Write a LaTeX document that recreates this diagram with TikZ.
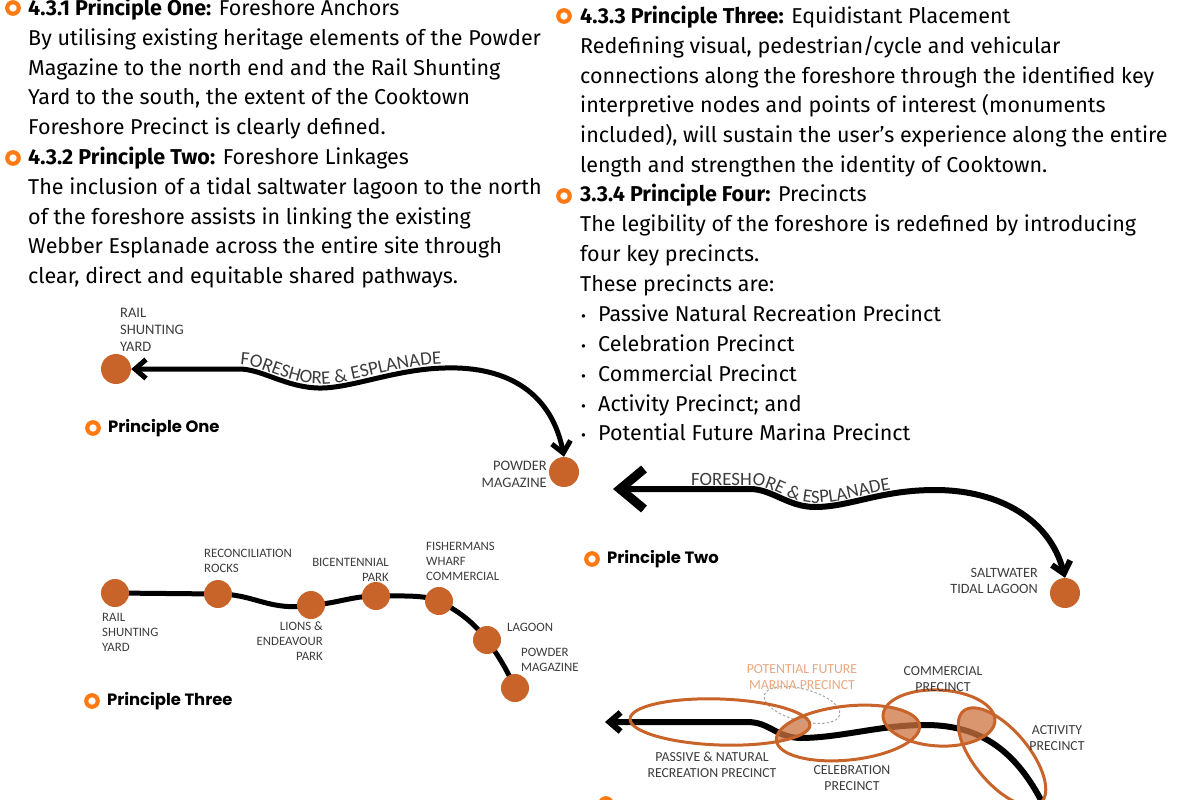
\documentclass[tikz,border=0pt]{standalone}
\usepackage{fontspec}
\setmainfont{Fira Sans}
\newfontfamily\tagfont{Poppins}
\newfontfamily\placefont{Carlito}
\usetikzlibrary{positioning, arrows.meta, decorations.text, backgrounds}

\definecolor{dotorange}{RGB}{200,100,42}
\definecolor{ringorange}{RGB}{255,122,20}
\definecolor{placegray}{RGB}{60,60,60}
\definecolor{marinaorange}{RGB}{232,168,128}

\newcommand{\bul}{\makebox[18pt][l]{\hspace{1pt}{\fontsize{15}{15}\selectfont\textbullet}}}

\begin{document}
\begin{tikzpicture}[
	x=1pt, y=-1pt,
	% Define styles
	bodytext/.style={anchor=north west, inner sep=0, align=left, font=\fontsize{21.5}{29.9}\selectfont},
	ring/.style={circle, draw=ringorange, line width=4.2pt, minimum size=11.5pt, inner sep=0},
	tag/.style={inner sep=0, font=\tagfont\bfseries\fontsize{16.4}{20}\selectfont},
	stop/.style={circle, fill=dotorange, minimum size=30pt, inner sep=0},
	smallstop/.style={stop, minimum size=28pt},
	place/.style={inner sep=0, text=placegray, font=\placefont\fontsize{14.5}{17}\selectfont},
	smallplace/.style={place, font=\placefont\fontsize{12.8}{15}\selectfont},
	zoneplace/.style={place, align=center, anchor=north, font=\placefont\fontsize{13.8}{16}\selectfont},
	esplanade/.style={line width=5pt},
	walkline/.style={line width=5pt},
	precinct/.style={draw=dotorange, line width=3pt},
	overlap/.style={fill=dotorange!90, opacity=0.75},
	barb/.tip={Straight Barb[length=11pt, width=19pt]},
	bigbarb/.tip={Straight Barb[length=24pt, width=40pt, line width=9pt]},
	% Precinct zones
	passivezone/.style={shift={(720,722)}, rotate=-2, x radius=90, y radius=23},
	marinazone/.style={shift={(802,705)}, rotate=-15, x radius=39, y radius=16},
	celebrationzone/.style={shift={(848,733)}, rotate=6, x radius=72, y radius=27},
	commercialzone/.style={shift={(939,718)}, rotate=-3, x radius=56, y radius=28},
	activityzone/.style={shift={(1002,757)}, rotate=-50, x radius=60, y radius=27}
	]
	\useasboundingbox (0,0) rectangle (1200,800);
	
	% 1. Principle texts
	\node[bodytext] (anchors) at (28,-5.9) {\strut{\bfseries 4.3.1 Principle One:} Foreshore Anchors\\
		By utilising existing heritage elements of the Powder\\
		Magazine to the north end and the Rail Shunting\\
		Yard to the south, the extent of the Cooktown\\
		Foreshore Precinct is clearly defined.};
	\node[bodytext] (linkages) at (28,143.1) {\strut{\bfseries 4.3.2 Principle Two:} Foreshore Linkages\\
		The inclusion of a tidal saltwater lagoon to the north\\
		of the foreshore assists in linking the existing\\
		Webber Esplanade across the entire site through\\
		clear, direct and equitable shared pathways.};
	\node[bodytext] (placement) at (580,2.1) {\strut{\bfseries 4.3.3 Principle Three:} Equidistant Placement\\
		Redefining visual, pedestrian/cycle and vehicular\\
		connections along the foreshore through the identified key\\
		interpretive nodes and points of interest (monuments\\
		included), will sustain the user’s experience along the entire\\
		length and strengthen the identity of Cooktown.};
	\node[bodytext] (precincts) at (580,180.6) {\strut{\bfseries 3.3.4 Principle Four:} Precincts\\
		The legibility of the foreshore is redefined by introducing\\
		four key precincts.\\
		These precincts are:\\
		\bul Passive Natural Recreation Precinct\\
		\bul Celebration Precinct\\
		\bul Commercial Precinct\\
		\bul Activity Precinct; and\\
		\bul Potential Future Marina Precinct};
	
	\node[ring] (headring1) at (13,8) {};
	\node[ring] (headring2) at (13,158) {};
	\node[ring] (headring3) at (564,16) {};
	\node[ring] (headring4) at (564,196) {};
	
	% 2. Principle One: anchors
	\node[stop] (rail1) at (116,369) {};
	\node[stop] (powder1) at (564,472) {};
	\node[place, anchor=north west, align=left] (rail1label) at (120,307.5) {RAIL\\SHUNTING\\YARD};
	\node[place, anchor=north east, align=right] (powder1label) at (547,461) {POWDER\\MAGAZINE};
	\draw[esplanade, {barb}-{barb}] (rail1.east) -- (239,369)
		.. controls (262,369) and (285,387) .. (318,388)
		.. controls (350,389) and (395,369) .. (445,368)
		.. controls (510,366) and (552,395) .. (powder1.north);
	\path[decorate, decoration={text along path, text align=left, text color=placegray,
		text={|\placefont\fontsize{19}{20}\selectfont|FORESHORE {\&} ESPLANADE}}]
		(240,365) .. controls (262,365) and (285,383) .. (318,384)
		.. controls (350,385) and (395,365) .. (445,364) -- (470,364);
	\node[ring] (ring1) at (93,428) {};
	\node[tag, right=7pt of ring1] (tag1) {Principle One};
	
	% 3. Principle Two: linkages
	\node[stop] (lagoon2) at (1065,593) {};
	\node[place, anchor=north east, align=right, font=\placefont\fontsize{14.2}{16}\selectfont] (lagoon2label) at (1038,568) {SALTWATER\\TIDAL LAGOON};
	\coordinate (west2) at (613,489);
	\draw[esplanade, line width=6pt, {bigbarb}-{barb}] (west2) -- (750,489)
		.. controls (772,489) and (788,507) .. (815,507)
		.. controls (850,507) and (880,490) .. (935,490)
		.. controls (1000,490) and (1050,520) .. (lagoon2.north);
	\path[decorate, decoration={text along path, text align=left, text color=placegray,
		text={|\placefont\fontsize{18.8}{20}\selectfont|FORESHORE {\&} ESPLANADE}}]
		(691,485) -- (750,485) .. controls (772,485) and (788,503) .. (815,503)
		.. controls (850,503) and (880,486) .. (935,486);
	\node[ring] (ring2) at (592,559) {};
	\node[tag, right=7pt of ring2] (tag2) {Principle Two};
	
	% 4. Principle Three: equidistant stops
	\node[smallstop] (rail3) at (115,593) {};
	\node[smallstop] (recon) at (218,594) {};
	\node[smallstop] (lions) at (311,605) {};
	\node[smallstop] (bicent) at (376,596) {};
	\node[smallstop] (fish) at (439,601) {};
	\node[smallstop] (lagoon3) at (487,640) {};
	\node[smallstop] (powder3) at (515,688) {};
	\begin{scope}[on background layer]
		\draw[walkline] (rail3.center) -- (recon.center)
			.. controls (255,594) and (270,612) .. (lions.center)
			.. controls (335,604) and (352,596) .. (bicent.center)
			.. controls (405,596) and (425,595) .. (fish.center)
			.. controls (460,612) and (473,622) .. (lagoon3.center)
			.. controls (500,658) and (508,672) .. (powder3.center);
	\end{scope}
	\node[smallplace, anchor=north west, align=left] (rail3label) at (102,613) {RAIL\\SHUNTING\\YARD};
	\node[smallplace, anchor=north west, align=left] (reconlabel) at (204,549) {RECONCILIATION\\ROCKS};
	\node[smallplace, anchor=north east, align=right] (lionslabel) at (323,622) {LIONS \&\\ENDEAVOUR\\PARK};
	\node[smallplace, anchor=north east, align=right] (bicentlabel) at (389,558) {BICENTENNIAL\\PARK};
	\node[smallplace, anchor=north west, align=left] (fishlabel) at (426,542) {FISHERMANS\\WHARF\\COMMERCIAL};
	\node[smallplace, anchor=north west, align=left] (lagoon3label) at (507,623) {LAGOON};
	\node[smallplace, anchor=north west, align=left] (powder3label) at (521,648) {POWDER\\MAGAZINE};
	\node[ring] (ring3) at (92,701) {};
	\node[tag, right=7pt of ring3] (tag3) {Principle Three};
	
	% 5. Principle Four: precincts
	\coordinate (west4) at (605,722);
	\coordinate (south4) at (1046,810);
	\draw[esplanade, line width=6pt, {barb}-] (west4) -- (747,722)
		.. controls (770,722) and (775,737) .. (800,738)
		.. controls (840,738) and (880,725) .. (925,725)
		.. controls (975,725) and (1015,745) .. (south4);
	\begin{scope}
		\clip[passivezone] (0,0) ellipse;
		\fill[overlap, celebrationzone] (0,0) ellipse;
	\end{scope}
	\begin{scope}
		\clip[celebrationzone] (0,0) ellipse;
		\fill[overlap, commercialzone] (0,0) ellipse;
	\end{scope}
	\begin{scope}
		\clip[commercialzone] (0,0) ellipse;
		\fill[overlap, activityzone] (0,0) ellipse;
	\end{scope}
	\draw[draw=gray!70, line width=1pt, dash pattern=on 2.5pt off 2pt, marinazone] (0,0) ellipse;
	\draw[precinct, passivezone] (0,0) ellipse;
	\draw[precinct, celebrationzone] (0,0) ellipse;
	\draw[precinct, commercialzone] (0,0) ellipse;
	\draw[precinct, activityzone] (0,0) ellipse;
	\node[zoneplace, text=marinaorange] (marinalabel) at (802,664) {POTENTIAL FUTURE\\MARINA PRECINCT};
	\node[zoneplace] (commerciallabel) at (943,666) {COMMERCIAL\\PRECINCT};
	\node[zoneplace] (activitylabel) at (1057,725) {ACTIVITY\\PRECINCT};
	\node[zoneplace] (passivelabel) at (712,752) {PASSIVE \& NATURAL\\RECREATION PRECINCT};
	\node[zoneplace] (celebrationlabel) at (852,765) {CELEBRATION\\PRECINCT};
	\node[ring] (ring4) at (606,804) {};
\end{tikzpicture}
\end{document}
